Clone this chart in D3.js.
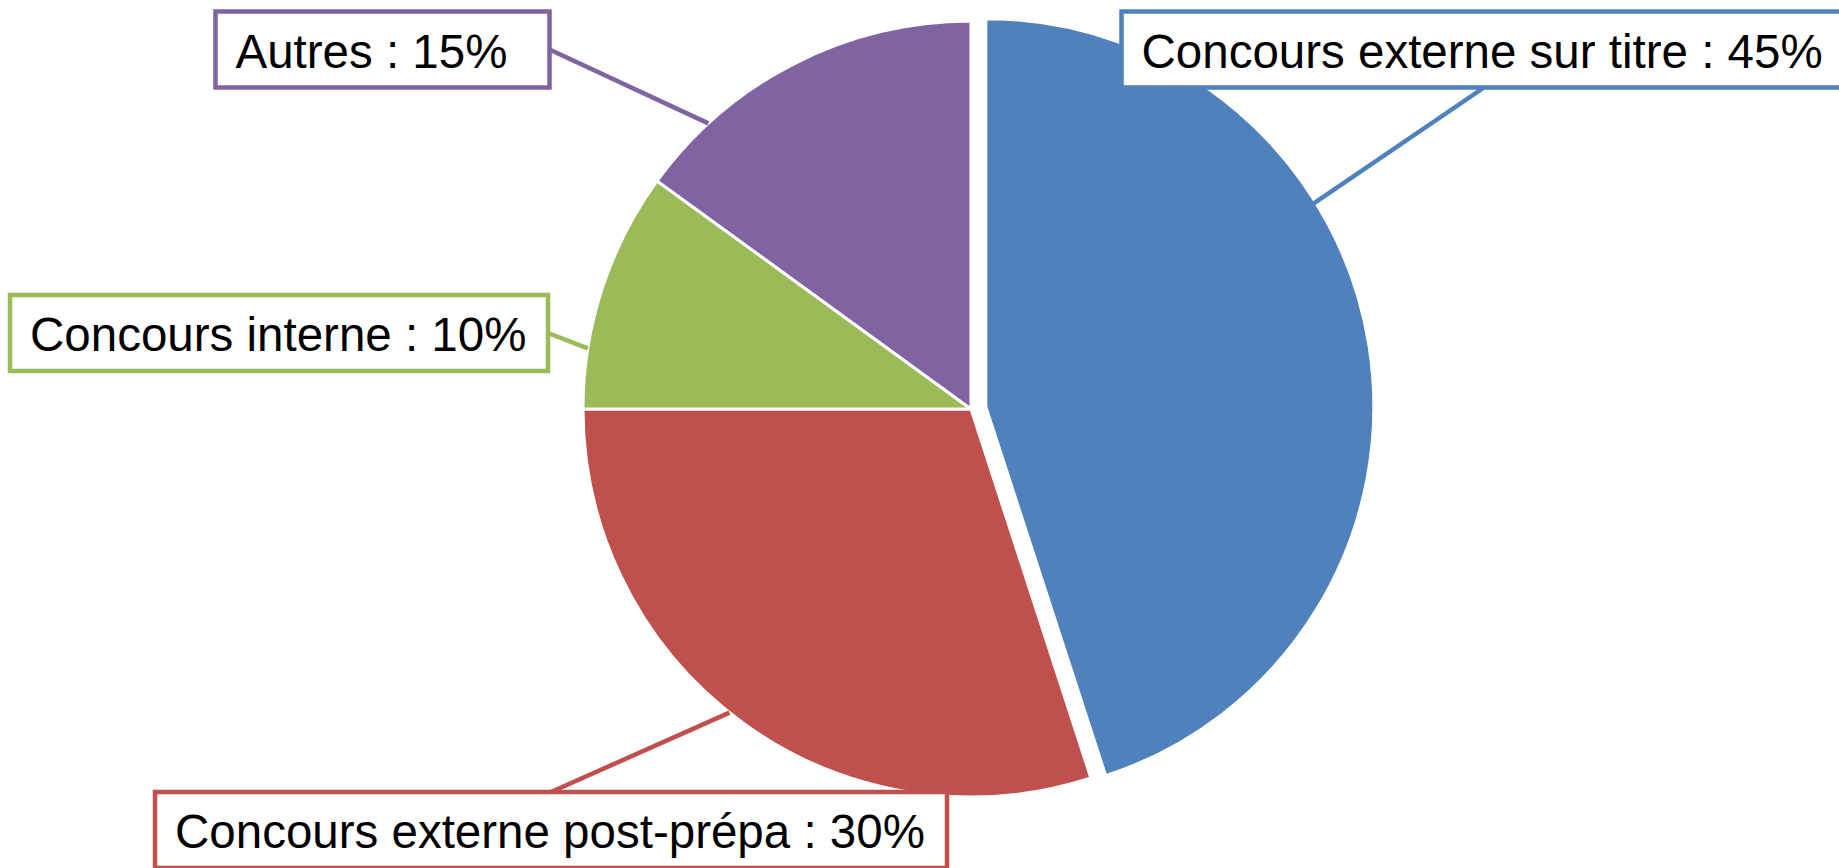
<!DOCTYPE html>
<html>
<head>
<meta charset="utf-8">
<script src="https://cdn.jsdelivr.net/npm/d3@7"></script>
<style>
	html, body { margin: 0; padding: 0; background: #fff; }
	#pie-div { width: 1839px; height: 868px; }
	.slice-label { font-family: "Liberation Sans", Arial, sans-serif; font-size: 47.5px; fill: #000; }
</style>
</head>
<body>
<div id="pie-div"></div>
<script>
//Data
	var categories = ["Concours externe sur titre", "Concours externe post-prépa", "Concours interne", "Autres"];
	var shares = [45, 30, 10, 15];
	var sliceColors = ["#4F81BD", "#C0504D", "#9BBB59", "#8064A2"];
	var exploded = [15, 0, 0, 0]; //px pulled out of the pie

//Label layout (box position/size, where the leader leaves the box, where it points on the slice)
	var boxX = [1121.5, 155, 10, 215.5];
	var boxY = [11.5, 792, 295, 11.5];
	var boxW = [725, 792, 538, 334];
	var boxH = 76;
	var boxPad = 20;
	var leaderSide = ["bottom", "top", "right", "right"];
	var leaderAngle = [58.4, 218.5, 279, 317.4]; //degrees clockwise from 12 o'clock
	var leaderReach = [0.927, 1, 1, 1]; //fraction of radius

//Canvas
	var w = parseInt(d3.select('#pie-div').style('width'), 10),
		h = parseInt(d3.select('#pie-div').style('height'), 10);

	var cx = 971, cy = 409, radius = 388;

	var rows = categories.map(function(c, i) {
		return { name: c, value: shares[i], color: sliceColors[i], pull: exploded[i], i: i };
	});

	var pie = d3.pie().sort(null).value(function(d) { return d.value; });
	var arc = d3.arc().innerRadius(0).outerRadius(radius);

	var svg = d3.select("#pie-div")
		.append("svg")
		.attr("width", w)
		.attr("height", h)
		.append("g")
			.attr("transform", "translate(" + cx + "," + cy + ")");

	var arcs = pie(rows);

	function offset(d) {
		var mid = (d.startAngle + d.endAngle) / 2;
		return d3.pointRadial(mid, d.data.pull);
	}

//Slices
	svg.selectAll("path.slice")
		.data(arcs)
		.enter()
		.append("path")
			.attr("class", "slice")
			.attr("d", arc)
			.attr("fill", function(d) { return d.data.color; })
			.attr("stroke", "#fff")
			.attr("stroke-width", 3)
			.attr("transform", function(d) { var o = offset(d); return "translate(" + o[0] + "," + o[1] + ")"; });

//Leader lines
	var labelLayer = d3.select("#pie-div svg").append("g");

	function boxAnchor(i) {
		var s = leaderSide[i];
		if (s === "bottom") return [boxX[i] + boxW[i] / 2, boxY[i] + boxH];
		if (s === "top") return [boxX[i] + boxW[i] / 2, boxY[i]];
		if (s === "right") return [boxX[i] + boxW[i], boxY[i] + boxH / 2];
		return [boxX[i], boxY[i] + boxH / 2];
	}

	function leaderEnd(d) {
		var p = d3.pointRadial(leaderAngle[d.data.i] * Math.PI / 180, radius * leaderReach[d.data.i]);
		var o = offset(d);
		return [cx + o[0] + p[0], cy + o[1] + p[1]];
	}

	labelLayer.selectAll("line")
		.data(arcs)
		.enter()
		.append("line")
			.attr("x1", function(d) { return boxAnchor(d.data.i)[0]; })
			.attr("y1", function(d) { return boxAnchor(d.data.i)[1]; })
			.attr("x2", function(d) { return leaderEnd(d)[0]; })
			.attr("y2", function(d) { return leaderEnd(d)[1]; })
			.attr("stroke", function(d) { return d.data.color; })
			.attr("stroke-width", 4.5);

//Label boxes
	var labels = labelLayer.selectAll("g.label")
		.data(arcs)
		.enter()
		.append("g")
			.attr("class", "label")
			.attr("transform", function(d) { return "translate(" + boxX[d.data.i] + "," + boxY[d.data.i] + ")"; });

	labels.append("rect")
		.attr("width", function(d) { return boxW[d.data.i]; })
		.attr("height", boxH)
		.attr("fill", "#fff")
		.attr("stroke", function(d) { return d.data.color; })
		.attr("stroke-width", 4.5);

	labels.append("text")
		.attr("class", "slice-label")
		.attr("x", boxPad)
		.attr("y", boxH / 2 + 18)
		.text(function(d) { return d.data.name + " : " + d3.format(".0f")(d.data.value) + "%"; });
</script>
</body>
</html>
